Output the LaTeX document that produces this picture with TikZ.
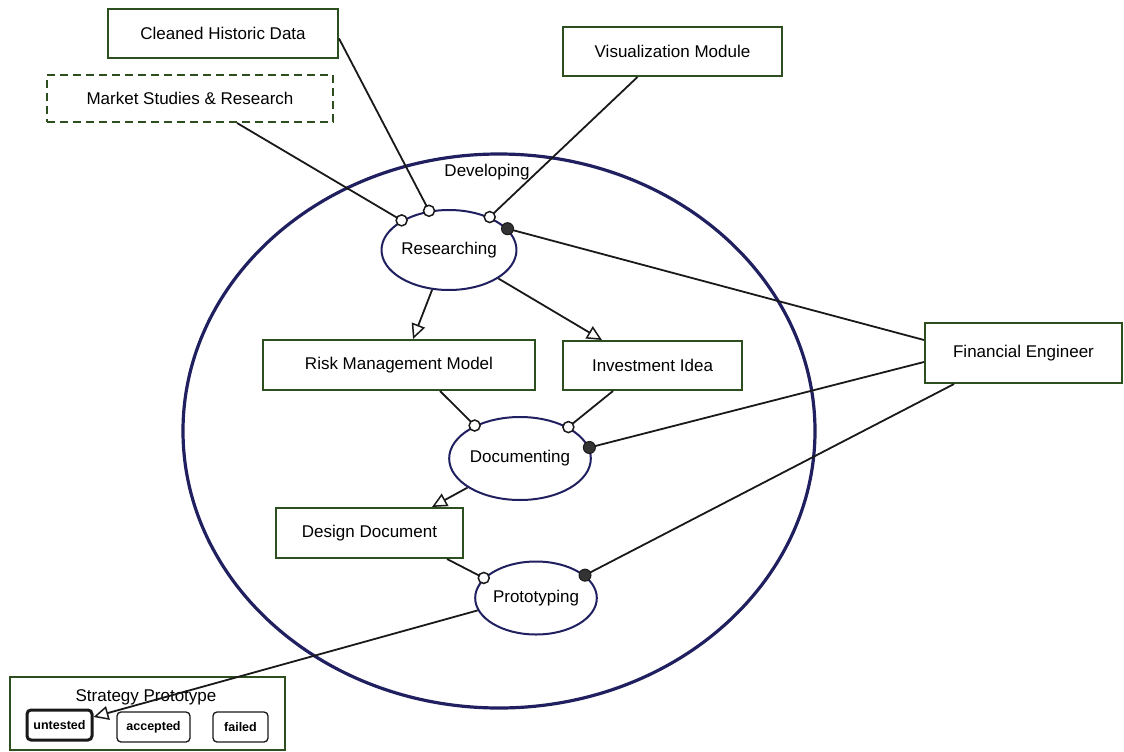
\documentclass[tikz,border=0pt]{standalone}
\usepackage{fontspec}
\setmainfont{Liberation Sans}
\usetikzlibrary{shapes.geometric,arrows.meta,calc}
\definecolor{boxc}{RGB}{45,78,30}
\definecolor{ellc}{RGB}{32,32,96}
\definecolor{linec}{RGB}{25,25,25}
\begin{document}
\begin{tikzpicture}[x=1pt,y=-1pt,
  txt/.style={font=\fontsize{17}{20}\selectfont},
  box/.style={draw=boxc,line width=2pt,fill=white,inner sep=0pt,txt},
  act/.style={ellipse,draw=ellc,line width=2pt,fill=white,inner sep=0pt,txt},
  conn/.style={draw=linec,line width=1.8pt},
  arr/.style={conn,-{Triangle[open,length=15pt,width=14pt,fill=white,line width=1.5pt]}},
  ocirc/.style={circle,draw=linec,fill=white,line width=1.5pt,minimum size=11pt,inner sep=0pt},
  fcirc/.style={circle,draw=linec,fill=black!80,line width=1pt,minimum size=12pt,inner sep=0pt},
  statebox/.style={draw=linec,rounded corners=4pt,line width=1.3pt,inner sep=0pt,minimum height=30pt,font=\bfseries\fontsize{12.5}{14}\selectfont}]
\useasboundingbox (0,0) rectangle (1124,752);

% big activity
\node[act,line width=3.2pt,fill=none,minimum width=632pt,minimum height=554pt] (dev) at (499,431) {};
\node[txt] (devlbl) at (487,172) {Developing};

% boxes
\node[box,minimum width=230pt,minimum height=49pt] (hist) at (223,33.5) {Cleaned Historic Data};
\node[box,minimum width=219pt,minimum height=49pt] (viz) at (672.5,51.5) {Visualization Module};
\node[box,dashed,dash pattern=on 8pt off 5pt,minimum width=286pt,minimum height=47pt] (market) at (190,98.5) {Market Studies \& Research};
\node[box,minimum width=272pt,minimum height=50pt] (risk) at (399,365) {Risk Management Model};
\node[box,minimum width=179pt,minimum height=49pt] (invest) at (652.5,365.5) {Investment Idea};
\node[box,minimum width=187pt,minimum height=50pt] (design) at (369.5,533) {Design Document};
\node[box,minimum width=197pt,minimum height=60pt] (fin) at (1023.5,353) {Financial Engineer};
\node[box,minimum width=275pt,minimum height=73pt] (strat) at (147.5,713.5) {};
\node[txt] (stratlbl) at (146,697) {Strategy Prototype};
\node[statebox,line width=3pt,minimum width=65pt] (untested) at (59.5,725) {untested};
\node[statebox,minimum width=73pt] (accepted) at (153.5,727) {accepted};
\node[statebox,minimum width=55pt] (failed) at (240.5,727) {failed};

% activities
\node[act,minimum width=128pt,minimum height=80pt] (res) at (449,250) {Researching};
\node[act,minimum width=134pt,minimum height=83pt] (doc) at (520,458.5) {Documenting};
\node[act,minimum width=118pt,minimum height=73pt] (proto) at (536,598) {Prototyping};

% inputs
\draw[conn] ($(hist.east)+(0,5)$) -- (res.117);
\draw[conn] ($(market.south)+(47,0)$) -- (res.148);
\draw[conn] ($(viz.south)+(-35,0)$) -- (res.39);
\draw[conn] ($(fin.west)+(0,-13)$) -- (res.20);
\draw[conn] ($(fin.west)+(0,9)$) -- (doc.9);
\draw[conn] ($(fin.south west)+(30,0)$) -- (proto.25);
\draw[conn] ($(risk.south)+(41,0)$) -- (doc.144);
\draw[conn] ($(invest.south)+(-39.5,0)$) -- (doc.33);
\draw[conn] ($(design.south)+(77.5,0)$) -- (proto.159);

% outputs
\draw[arr] (res.247) -- ($(risk.north)+(14,0)$);
\draw[arr] (res.-30) -- ($(invest.north)+(-50.5,0)$);
\draw[arr] (doc.209) -- ($(design.north)+(62.5,0)$);
\draw[arr] (proto.192) -- ($(untested.east)+(0,-8)$);

% ports
\node[ocirc] (p1) at (res.117) {};
\node[ocirc] (p2) at (res.148) {};
\node[ocirc] (p3) at (res.39) {};
\node[fcirc] (p4) at (res.20) {};
\node[ocirc] (p5) at (doc.144) {};
\node[ocirc] (p6) at (doc.33) {};
\node[fcirc] (p7) at (doc.9) {};
\node[ocirc] (p8) at (proto.159) {};
\node[fcirc] (p9) at (proto.25) {};
\end{tikzpicture}
\end{document}
